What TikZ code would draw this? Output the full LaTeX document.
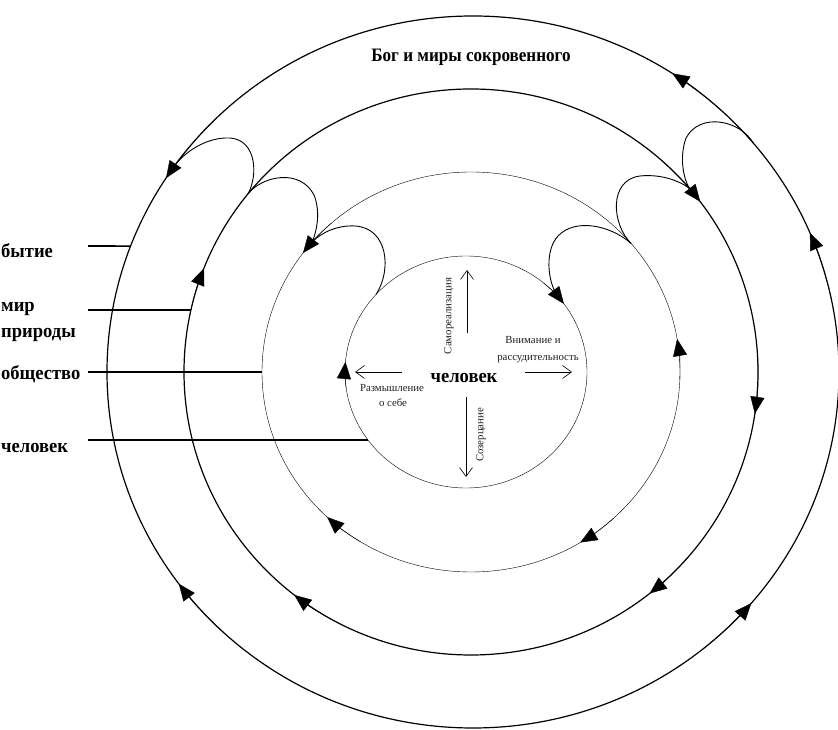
\documentclass[tikz,border=0pt]{standalone}
\usepackage{fontspec}
\setmainfont{Liberation Serif}
\newfontfamily\boldlbl[FakeStretch=0.9]{Liberation Serif}
\newfontfamily\namelbl[FakeStretch=0.95]{Liberation Serif}
\usetikzlibrary{arrows.meta,positioning}

\begin{document}
\begin{tikzpicture}[x=1pt,y=1pt,
    ring/.style={line width=1.2pt},
    thinring/.style={line width=0.4pt},
    curl/.style={line width=0.9pt},
    lead/.style={line width=1.7pt},
    flow/.style={-{Triangle[length=17pt,width=14pt]}},
    ray/.style={line width=0.6pt,-{Straight Barb[length=9pt,width=13pt]}},
    biglbl/.style={font=\boldlbl\bfseries\fontsize{19}{22}\selectfont},
    namelbl/.style={font=\namelbl\bfseries\fontsize{19.5}{23}\selectfont},
    smalllbl/.style={font=\fontsize{10.8}{13}\selectfont,text=black!88}]
  \useasboundingbox (0,0) rectangle (838,730);
  \coordinate (O1) at (473,358);
  \coordinate (O) at (471,358);
  \coordinate (Oi) at (466,358);

  % four spheres
  \draw[ring] (O1) ellipse [x radius=366, y radius=356];
  \draw[ring] (O) ellipse [x radius=287, y radius=283];
  \draw[thinring] (O) ellipse [x radius=209, y radius=200];
  \draw[thinring] (Oi) ellipse [x radius=121, y radius=116];

  % direction marks on the spheres
  \foreach \c/\rx/\ry/\a/\b in {O1/366/356/46/57, O1/366/356/12/23,
      O1/366/356/-51/-40.5, O1/366/356/227/216.5, O1/366/356/136/147,
      O/287/283/48/37, O/287/283/2/-8.5, O/287/283/-41/-51.5,
      O/287/283/243/232, O/287/283/169/158.5,
      O/209/200/132/143.5, O/209/200/-2/9.5, O/209/200/-47/-58.5, O/209/200/238/226.5,
      Oi/121/116/50/36, Oi/121/116/188/175}
    \draw[flow,thinring] (\c) ++(\a:{\rx} and {\ry}) arc[start angle=\a, end angle=\b, x radius=\rx, y radius=\ry];

  % points where the curls leave and join
  \path (O) ++(141:287 and 283) coordinate (P2);
  \path (Oi) ++(138:121 and 116) coordinate (P4);
  \path (O1) ++(144:366 and 356) coordinate (J1);
  \path (O) ++(139.5:209 and 200) coordinate (J3);
  \path (O1) ++(40:366 and 356) coordinate (Q1);
  \path (O) ++(40:209 and 200) coordinate (Q3);
  \path (O) ++(40.5:287 and 283) coordinate (K2);
  \path (Oi) ++(41:121 and 116) coordinate (K4);

  % curls
  \draw[curl] (P2) .. controls (258,554) and (257,590) .. (230,592) .. controls (208,593) and (188,580) .. (J1);
  \draw[curl] (P2) .. controls (262,554) and (300,562) .. (314,535) .. controls (320,520) and (318,502) .. (J3);
  \draw[curl] (P4) .. controls (392,460) and (388,502) .. (355,504) .. controls (338,505) and (322,498) .. (J3);
  \draw[curl] (Q1) .. controls (740,610) and (700,618) .. (686,592) .. controls (680,575) and (682,555) .. (K2);
  \draw[curl] (Q3) .. controls (612,505) and (608,550) .. (640,554) .. controls (660,556) and (678,550) .. (K2);
  \draw[curl] (Q3) .. controls (610,505) and (575,512) .. (558,494) .. controls (545,480) and (547,450) .. (K4);

  % names of the spheres
  \node[biglbl] (god) at (471,668) [anchor=base] {Бог и миры сокровенного};
  \node[namelbl,anchor=base west,inner sep=0pt] (being) at (1,472) {бытие};
  \node[namelbl,anchor=base west,inner sep=0pt] (nature1) at (1,418) {мир};
  \node[namelbl,anchor=base west,inner sep=0pt] (nature2) at (1,392) {природы};
  \node[namelbl,anchor=base west,inner sep=0pt] (society) at (1,350) {общество};
  \node[namelbl,anchor=base west,inner sep=0pt] (person) at (1,277) {человек};

  \path (O1) ++(159.3:366 and 356) coordinate (e1);
  \path (O) ++(167.35:287 and 283) coordinate (e2);
  \path (O) ++(180:209 and 200) coordinate (e3);
  \path (Oi) ++(215.9:121 and 116) coordinate (e4);
  \draw[lead] (88,484) -- (e1);
  \draw[lead] (88,420) -- (e2);
  \draw[lead] (88,358) -- (e3);
  \draw[lead] (88,290) -- (e4);

  % the centre
  \node[namelbl,anchor=base] (self) at (464,347) {человек};
  \node[smalllbl,anchor=base] (attn1) at (533,386) {Внимание и};
  \node[smalllbl,anchor=base] (attn2) at (538,369) {рассудительность};
  \node[smalllbl,anchor=base] (refl1) at (392,338) {Размышление};
  \node[smalllbl,anchor=base] (refl2) at (393,323) {о себе};
  \node[smalllbl,rotate=90] (realis) at (449,414) {Самореализация};
  \node[smalllbl,rotate=90] (contem) at (481,295) {Созерцание};

  \coordinate (up0) at (467,397);
  \coordinate (up1) at (467,460);
  \coordinate (lf0) at (402,358);
  \coordinate (lf1) at (355,358);
  \coordinate (rt0) at (525,358);
  \coordinate (rt1) at (572,358);
  \coordinate (dn0) at (466,333);
  \coordinate (dn1) at (466,253);
  \draw[ray] (up0) -- (up1);
  \draw[ray] (lf0) -- (lf1);
  \draw[ray] (rt0) -- (rt1);
  \draw[ray] (dn0) -- (dn1);
\end{tikzpicture}
\end{document}
